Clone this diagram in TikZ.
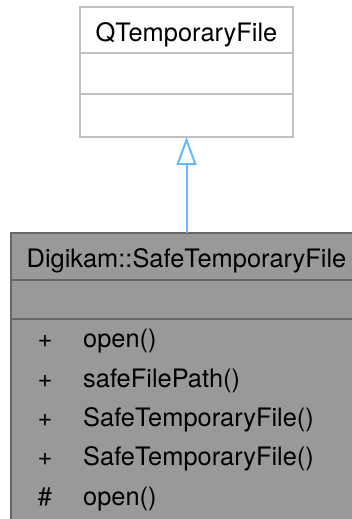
\documentclass[tikz,border=0pt]{standalone}
\usepackage{fontspec}
\setmainfont{TeX Gyre Heros}
\usetikzlibrary{positioning,arrows.meta}
\definecolor{topedge}{HTML}{BFBFBF}
\definecolor{curfill}{HTML}{999999}
\definecolor{curedge}{HTML}{666666}
\definecolor{inherit}{HTML}{63B8FF}
\tikzset{
	basebox/.style={draw=topedge, fill=white, line width=2pt, rectangle, outer sep=0pt, inner sep=0pt},
	curbox/.style={draw=curedge, fill=curfill, line width=2pt, rectangle, outer sep=0pt, inner sep=0pt},
	label/.style={inner sep=0pt, anchor=base},
	member/.style={inner sep=0pt, anchor=base west}
}
\begin{document}
\begin{tikzpicture}[x=1pt, y=-1pt, font=\fontsize{25.4pt}{30pt}\selectfont]
		\useasboundingbox (0,0) rectangle (351,519);
		% Base class
		\node[basebox, minimum width=213pt, minimum height=46pt] (qtfTitle) at (186.5,30) {}; \node[basebox,
		minimum width=213pt, minimum height=41pt, below=0pt of qtfTitle] (qtfAttr) {}; \node[basebox,
		minimum width=213pt, minimum height=43pt, below=0pt of qtfAttr] (qtfOps) {};
		\node[label] (qtfName) at (186.5,42) {QTemporaryFile};
		
		% Derived class
		\node[curbox, minimum width=351pt, minimum height=47pt] (sftTitle) at (186.5,256.5) {}; \node[curbox,
		minimum width=351pt, minimum height=39pt, below=0pt of sftTitle] (sftAttr) {}; \node[curbox,
		minimum width=351pt, minimum height=211pt, below=0pt of sftAttr] (sftOps) {};
		\node[label] (sftName) at (186.5,267) {Digikam::SafeTemporaryFile};
		
		% Members
		\node[label] (visA) at (45,347) {+}; \node[member] (opA) at (83,347) {open()};
		\node[label] (visB) at (45,387) {+}; \node[member] (opB) at (83,387) {safeFilePath()};
		\node[label] (visC) at (45,426) {+}; \node[member] (opC) at (83,426) {SafeTemporaryFile()};
		\node[label] (visD) at (45,465) {+}; \node[member] (opD) at (83,465) {SafeTemporaryFile()};
		\node[label] (visE) at (45,505) {\#}; \node[member] (opE) at (83,505) {open()};
		
		% Inheritance
		\draw[-{Triangle[open, length=28pt, width=20pt]}, draw=inherit, line width=2pt] (sftTitle) -- (qtfOps);
	\end{tikzpicture}
\end{document}
